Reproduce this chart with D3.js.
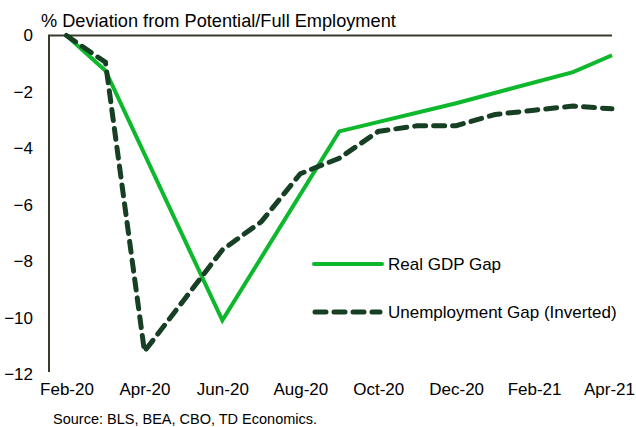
<!DOCTYPE html>
<html>
<head>
<meta charset="utf-8">
<script src="https://cdn.jsdelivr.net/npm/d3@7"></script>
<style>
  body { margin: 0; background: #fff; }
  text { font-family: "Liberation Sans", Arial, sans-serif; fill: #000; }
</style>
</head>
<body>
<div id="chart"></div>
<script>
var width = 636;
var height = 427;

// all months on the date axis
var months = ["Feb-20", "Mar-20", "Apr-20", "May-20", "Jun-20", "Jul-20", "Aug-20", "Sep-20",
  "Oct-20", "Nov-20", "Dec-20", "Jan-21", "Feb-21", "Mar-21", "Apr-21"];
// labelled ticks
var tickLabels = ["Feb-20", "Apr-20", "Jun-20", "Aug-20", "Oct-20", "Dec-20", "Feb-21", "Apr-21"];
var yTicks = [0, -2, -4, -6, -8, -10, -12];

// Real GDP gap (quarterly + first/last months)
var gdpMonths = ["Feb-20", "Mar-20", "Jun-20", "Sep-20", "Dec-20", "Mar-21", "Apr-21"];
var gdpGap = [0, -1.25, -10.1, -3.4, -2.4, -1.3, -0.7];

// Unemployment gap (inverted), monthly
var unempGap = [0, -0.95, -11.2, -9.4, -7.6, -6.6, -4.9, -4.35, -3.4, -3.2, -3.2, -2.8, -2.65, -2.5, -2.6];

var svg = d3.select("#chart").append("svg")
  .attr("width", width)
  .attr("height", height);

var x = d3.scalePoint().domain(months).range([66.5, 612]);
var y = d3.scaleLinear().domain([-12, 0]).range([374, 35.5]);

// title
svg.append("text")
  .attr("x", 41)
  .attr("y", 27)
  .attr("font-size", "18.2px")
  .text("% Deviation from Potential/Full Employment");

// y axis (labels only, the line is drawn separately)
var yAxis = d3.axisLeft(y).tickValues(yTicks).tickSize(0).tickPadding(0)
  .tickFormat(d3.format("d"));
var gy = svg.append("g").attr("transform", "translate(33,0)").call(yAxis);
gy.select(".domain").remove();
gy.selectAll("text").attr("font-size", "17px").attr("font-family", "Liberation Sans, Arial, sans-serif").attr("fill", "#000");

// x axis labels
var xAxis = d3.axisBottom(x).tickValues(tickLabels).tickSize(0).tickPadding(0);
var gx = svg.append("g").attr("transform", "translate(0,383)").call(xAxis);
gx.select(".domain").remove();
gx.selectAll("text").attr("font-size", "17px").attr("font-family", "Liberation Sans, Arial, sans-serif").attr("fill", "#000");
// last label sits against the right edge
gx.selectAll(".tick:last-of-type text").attr("dx", "-3");

// axis lines
svg.append("line")
  .attr("x1", 49).attr("x2", 49)
  .attr("y1", y(0)).attr("y2", 372)
  .attr("stroke", "#3b3b2c").attr("stroke-width", 2);
svg.append("line")
  .attr("x1", 48).attr("x2", 612)
  .attr("y1", y(0)).attr("y2", y(0))
  .attr("stroke", "#3b3b2c").attr("stroke-width", 2);

var line = d3.line()
  .x(function (d) { return x(d[0]); })
  .y(function (d) { return y(d[1]); });

var unempData = months.map(function (m, i) { return [m, unempGap[i]]; });
var gdpData = gdpMonths.map(function (m, i) { return [m, gdpGap[i]]; });

svg.append("path")
  .datum(gdpData)
  .attr("d", line)
  .attr("fill", "none")
  .attr("stroke", "#0db82c")
  .attr("stroke-width", 4);

svg.append("path")
  .datum(unempData)
  .attr("d", line)
  .attr("fill", "none")
  .attr("stroke", "#173f24")
  .attr("stroke-width", 5)
  .attr("stroke-dasharray", "11,8")
  .attr("stroke-linecap", "round");

// legend
svg.append("line")
  .attr("x1", 314).attr("x2", 382).attr("y1", 264).attr("y2", 264)
  .attr("stroke", "#0db82c").attr("stroke-width", 4).attr("stroke-linecap", "round");
svg.append("text").attr("x", 388).attr("y", 270).attr("font-size", "17px").text("Real GDP Gap");

svg.append("line")
  .attr("x1", 315).attr("x2", 380).attr("y1", 312).attr("y2", 312)
  .attr("stroke", "#173f24").attr("stroke-width", 5)
  .attr("stroke-dasharray", "11,8").attr("stroke-linecap", "round");
svg.append("text").attr("x", 388).attr("y", 318).attr("font-size", "17px").text("Unemployment Gap (Inverted)");

// source note
svg.append("text")
  .attr("x", 53)
  .attr("y", 424)
  .attr("font-size", "14.5px")
  .text("Source: BLS, BEA, CBO, TD Economics.");
</script>
</body>
</html>
